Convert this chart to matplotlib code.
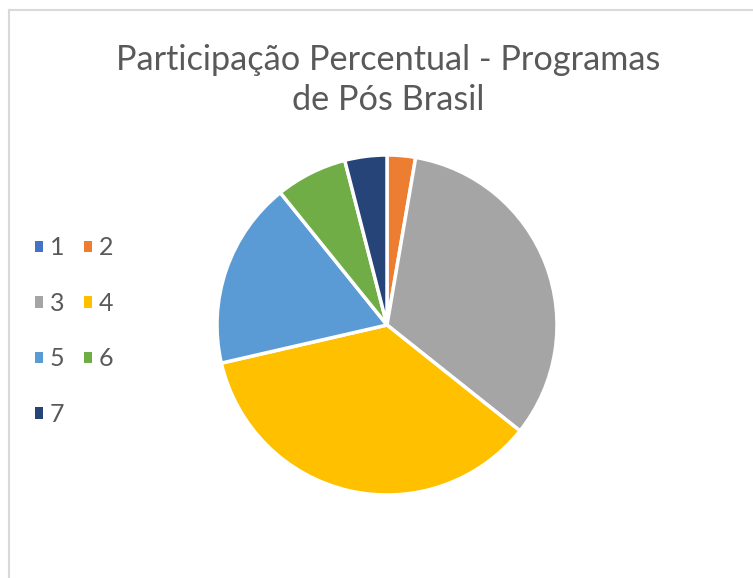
import matplotlib
matplotlib.use("Agg")
import matplotlib.pyplot as plt
import matplotlib.patches as mpatches
from matplotlib.lines import Line2D

# data (percent shares)
labels = ["1", "2", "3", "4", "5", "6", "7"]
shares = [0.0, 2.7, 33.0, 35.7, 17.8, 6.8, 4.0]
colors = ["#4472C4", "#ED7D31", "#A5A5A5", "#FFC000", "#5B9BD5", "#70AD47", "#264478"]
title = "Participação Percentual - Programas\nde Pós Brasil"

plt.rcParams['font.family'] = ['Lato', 'DejaVu Sans']

W, H = 753, 578
fig = plt.figure(figsize=(W / 100, H / 100), dpi=100)

# chart border (only top/left visible in the crop)
fig.add_artist(Line2D([9 / W, 9 / W], [0, 1 - 10 / H], color="#d9d9d9", lw=1.5))
fig.add_artist(Line2D([9 / W, 1], [1 - 10 / H, 1 - 10 / H], color="#d9d9d9", lw=1.5))

cx, cy, r = 387, 325, 170
ax = fig.add_axes([(cx - r) / W, (H - cy - r) / H, 2 * r / W, 2 * r / H])
wedges, _ = ax.pie(shares, colors=colors, startangle=90, counterclock=False,
                   radius=1, wedgeprops=dict(edgecolor="white", linewidth=2.5))
ax.set_xlim(-1.0, 1.0)
ax.set_ylim(-1.0, 1.0)
ax.set_aspect("equal")

fig.text(388 / W, 1 - 80 / H, title, ha="center", va="center",
         fontsize=24.7, color="#595959", linespacing=1.3)

# legend laid out row by row: 1 2 / 3 4 / 5 6 / 7
proxies = [mpatches.Patch(facecolor=w.get_facecolor(), edgecolor="none") for w in wedges]
order = list(range(0, len(labels), 2)) + list(range(1, len(labels), 2))
leg = fig.legend([proxies[i] for i in order], [labels[i] for i in order],
                 ncol=2, loc="upper left", borderpad=0,
                 bbox_to_anchor=(22 / W, 1 - 224 / H), frameon=False,
                 fontsize=18, handlelength=0.33, handleheight=0.33,
                 handletextpad=0.28, columnspacing=0.77, labelspacing=1.3)
for t in leg.get_texts():
    t.set_color("#595959")

fig.savefig("out.png", dpi=100)
